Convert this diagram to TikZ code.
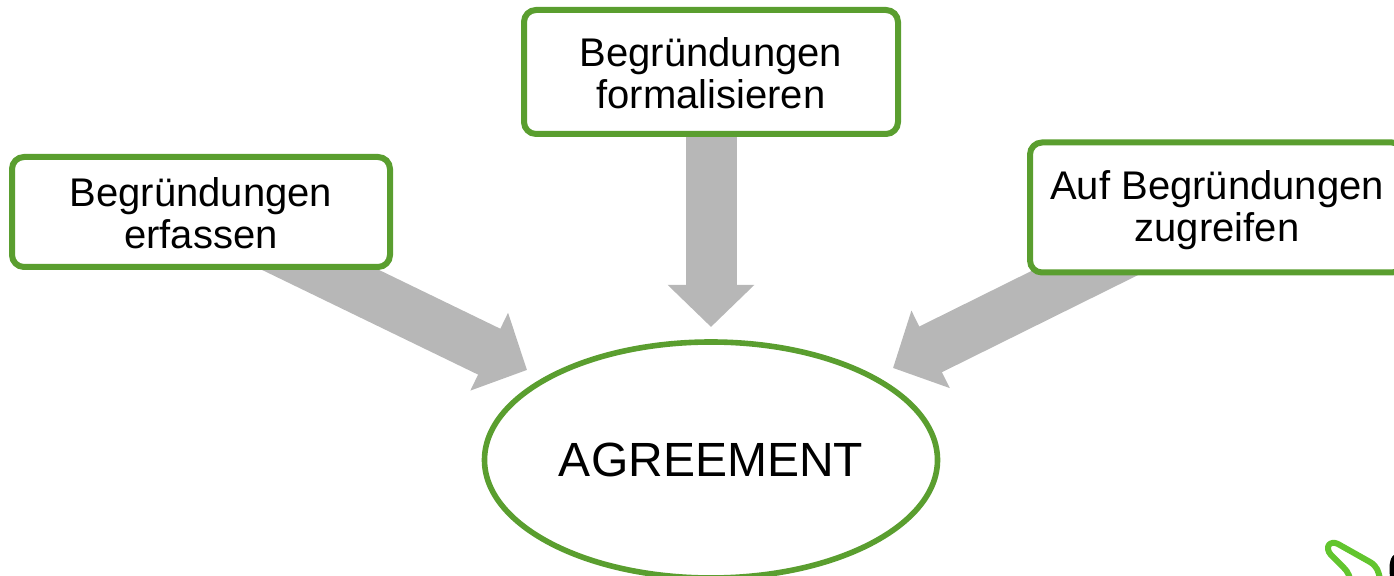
\documentclass[tikz,border=0pt]{standalone}
\usepackage{fontspec}
\setmainfont{Liberation Sans}
\usetikzlibrary{arrows.meta,backgrounds,shapes.geometric}
\definecolor{boxgreen}{HTML}{5A9E2F}
\definecolor{arrowgray}{HTML}{B7B7B7}
\definecolor{logogreen}{HTML}{62C52E}
\tikzset{
  stepbox/.style={
    draw=boxgreen,
    line width=3pt,
    fill=white,
    rounded corners=6pt,
    align=center,
    minimum width=188pt,
    minimum height=55pt,
    inner sep=0pt,
    font=\fontsize{20}{21}\selectfont
  },
  bigarrow/.style={
    draw=arrowgray,
    line width=25.5pt,
    -{Triangle[length=21pt,width=42pt]}
  }
}
\begin{document}
\begin{tikzpicture}[x=.5pt,y=-.5pt]
    \useasboundingbox (0,0) rectangle (1394,576);

    \node (erfassen) [stepbox,minimum width=189pt] at (201,212) {\rule{0pt}{15.6pt}Begründungen\\erfassen};
    \node (formalisieren) [stepbox,minimum width=187pt,minimum height=62pt] at (711,72) {\rule{0pt}{15.6pt}Begründungen\\formalisieren};
    \node (zugreifen) [stepbox,minimum width=187pt,minimum height=65pt] at (1217,207.5) {\rule{0pt}{17.6pt}Auf Begründungen\\zugreifen};

    \node (agreement) [
      ellipse,
      draw=boxgreen,
      line width=2.8pt,
      fill=white,
      minimum width=226.5pt,
      minimum height=118pt,
      inner sep=0pt,
      font=\fontsize{24}{26}\selectfont
      ] at (711,460) {AGREEMENT};

    \coordinate (lefttip) at (527,370);
    \coordinate (midtip) at (711,327);
    \coordinate (righttip) at (893,368);

    \begin{pgfonlayer}{background}
      \draw[bigarrow] (erfassen.center) -- (lefttip);
      \draw[bigarrow] (formalisieren.center) -- (midtip);
      \draw[bigarrow] (zugreifen.center) -- (righttip);
    \end{pgfonlayer}

    % logo cut off by the page
    \draw[logogreen,line width=3pt,line cap=round,line join=round]
      (1350,580) .. controls (1349,572) and (1345,569) .. (1341,565)
      -- (1331,555) .. controls (1324,547) and (1330,540) .. (1338,544)
      -- (1370,562) .. controls (1377,566) and (1379,572) .. (1380,580);
    \fill[black] (1394,555) .. controls (1389,558) and (1389,570) .. (1390,576)
      -- (1394,576) -- cycle;
\end{tikzpicture}
\end{document}
